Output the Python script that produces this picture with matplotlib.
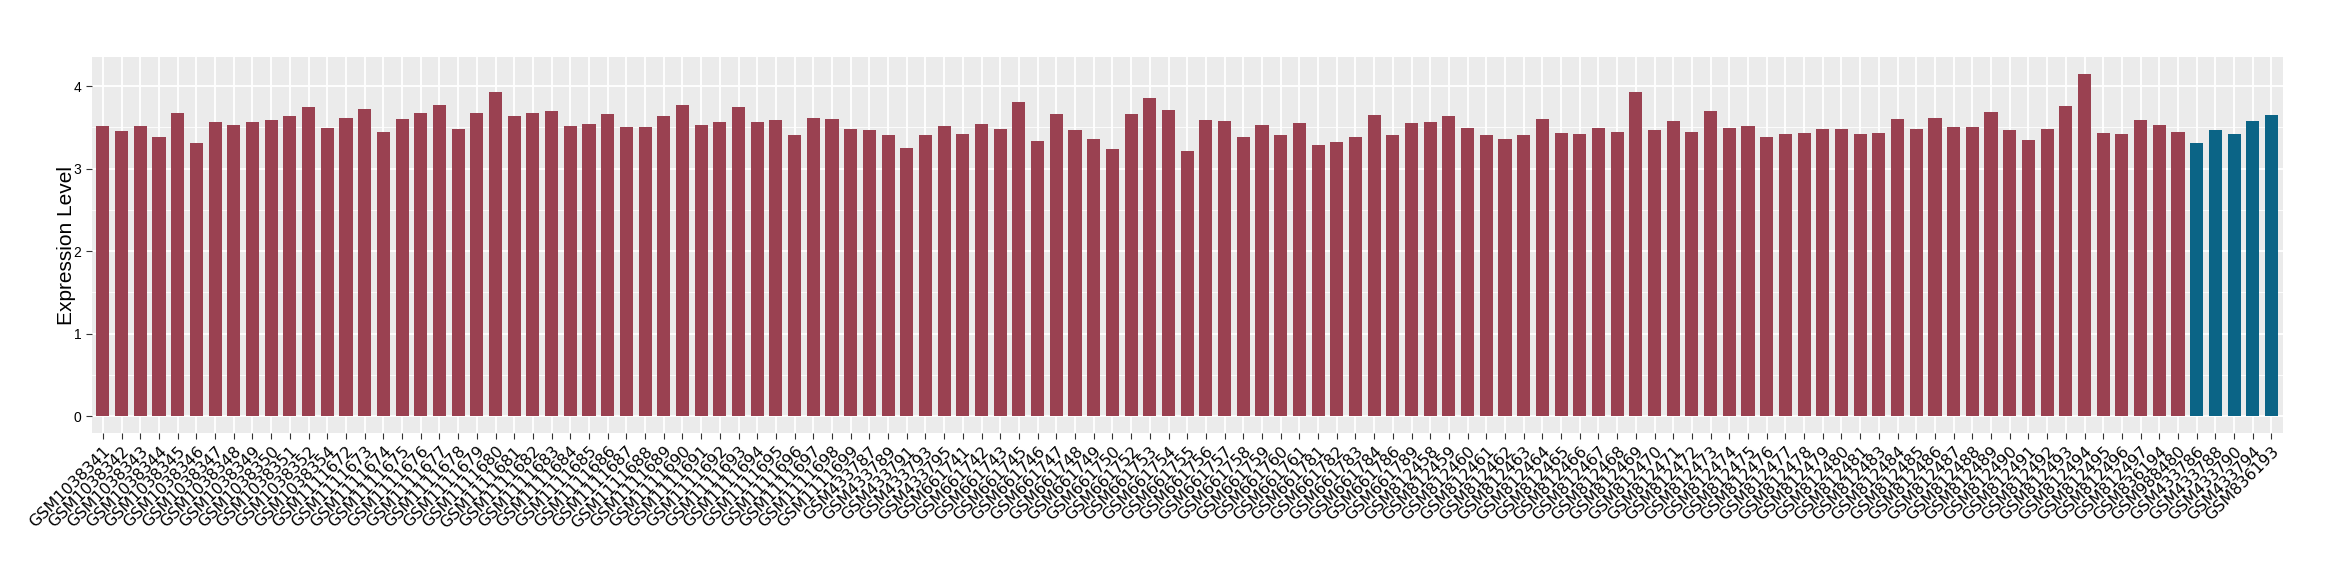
import numpy as np
import matplotlib.pyplot as plt

# sample names, in plotting order
samples = (
    ["GSM10383%02d" % i for i in range(41, 53)] + ["GSM1038354"]
    + ["GSM11116%02d" % i for i in range(72, 100)]
    + ["GSM433787", "GSM433789", "GSM433791", "GSM433793", "GSM433795"]
    + ["GSM661741", "GSM661742", "GSM661743"]
    + ["GSM6617%02d" % i for i in range(45, 51)]
    + ["GSM6617%02d" % i for i in range(52, 62)]
    + ["GSM661781", "GSM661782", "GSM661783", "GSM661784", "GSM661786", "GSM661789"]
    + ["GSM812%03d" % i for i in range(458, 498) if i != 482]
    + ["GSM836194", "GSM988480"]
    + ["GSM433786", "GSM433788", "GSM433790", "GSM433794", "GSM836193"]
)

expression = [
    3.52, 3.46, 3.52, 3.39, 3.68, 3.31, 3.57, 3.53, 3.57, 3.59,
    3.64, 3.75, 3.49, 3.61, 3.72, 3.44, 3.60, 3.68, 3.77, 3.48,
    3.68, 3.93, 3.64, 3.68, 3.70, 3.52, 3.54, 3.66, 3.50, 3.50,
    3.64, 3.77, 3.53, 3.57, 3.75, 3.57, 3.59, 3.41, 3.61, 3.60,
    3.48, 3.47, 3.41, 3.25, 3.41, 3.52, 3.42, 3.54, 3.48, 3.81,
    3.33, 3.66, 3.47, 3.36, 3.24, 3.66, 3.86, 3.71, 3.21, 3.59,
    3.58, 3.39, 3.53, 3.41, 3.55, 3.29, 3.32, 3.38, 3.65, 3.41,
    3.55, 3.57, 3.64, 3.49, 3.41, 3.36, 3.41, 3.60, 3.43, 3.42,
    3.49, 3.44, 3.93, 3.47, 3.58, 3.44, 3.70, 3.49, 3.52, 3.39,
    3.42, 3.43, 3.48, 3.48, 3.42, 3.43, 3.60, 3.48, 3.61, 3.50,
    3.50, 3.69, 3.47, 3.35, 3.48, 3.76, 4.15, 3.43, 3.42, 3.59,
    3.53, 3.44,
    3.31, 3.47, 3.42, 3.58, 3.65,
]

# last five samples are the second group
group = ["a"] * (len(samples) - 5) + ["b"] * 5
colors = {"a": "#9A4151", "b": "#0B6486"}

fig = plt.figure(figsize=(23.4, 5.8), dpi=100)
ax = fig.add_axes([0.0392, 0.2529, 0.9363, 0.6493])

x = np.arange(len(samples))
ax.bar(x, expression, width=0.7, color=[colors[g] for g in group], zorder=3)

ymax = max(expression)
ax.set_ylim(-0.05 * ymax, ymax * 1.05)
ax.set_xlim(-0.6, len(samples) - 1 + 0.6)

# ggplot-like grey panel
ax.set_facecolor("#EBEBEB")
for s in ax.spines.values():
    s.set_visible(False)
ax.set_yticks([0, 1, 2, 3, 4])
ax.set_yticks([0.5, 1.5, 2.5, 3.5], minor=True)
ax.grid(which="major", color="white", linewidth=1.3, zorder=0)
ax.grid(which="minor", axis="y", color="white", linewidth=0.6, zorder=0)
ax.set_axisbelow(True)

ax.set_xticks(x)
ax.set_xticklabels(samples, rotation=45, ha="right", va="top",
                   rotation_mode="anchor", fontsize=11.5, family="DejaVu Sans")
ax.tick_params(axis="both", which="major", length=4, width=0.8, color="#333333")
ax.tick_params(axis="y", which="minor", length=0)
ax.tick_params(axis="y", labelsize=10)
for lab in ax.get_yticklabels():
    lab.set_family("Liberation Sans")

ax.set_ylabel("Expression Level", fontsize=15, family="Liberation Sans", labelpad=-2)

plt.savefig("out.png", dpi=100)
